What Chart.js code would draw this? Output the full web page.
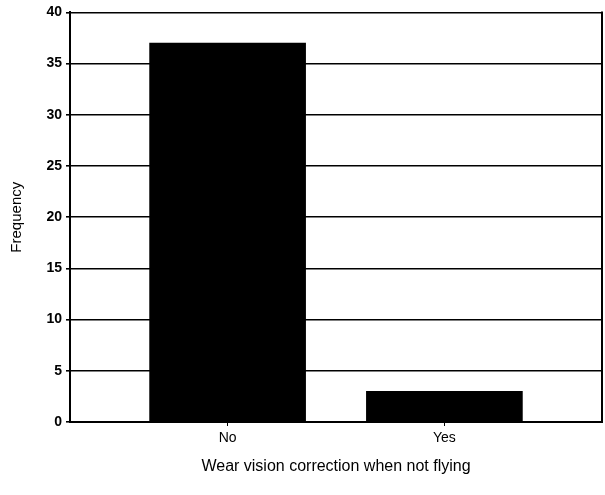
<!DOCTYPE html>
<html lang="en">
<head>
    <meta charset="UTF-8">
    <title>Wear vision correction when not flying</title>
    <script src="https://cdn.jsdelivr.net/npm/chart.js"></script>
    <style>
        html, body { margin: 0; padding: 0; background: #ffffff; }
        .chart-box { position: relative; width: 605px; height: 495px; }
    </style>
</head>
<body>
    <div class="chart-box">
        <canvas id="freqChart"></canvas>
    </div>
    <script>
        // data
        const categories = ['No', 'Yes'];
        const frequencies = [37, 3];
        const yTicks = [0, 5, 10, 15, 20, 25, 30, 35, 40];

        const fontFamily = "'Liberation Sans', Arial, sans-serif";

        // right edge of the frame
        const rightBorder = {
            id: 'rightBorder',
            afterDraw(chart) {
                const a = chart.chartArea;
                const ctx = chart.ctx;
                ctx.save();
                ctx.strokeStyle = '#000';
                ctx.lineWidth = 2;
                ctx.beginPath();
                ctx.moveTo(a.right, a.top - 1);
                ctx.lineTo(a.right, a.bottom + 1);
                ctx.stroke();
                ctx.restore();
            }
        };

        new Chart(document.getElementById('freqChart'), {
            type: 'bar',
            data: {
                datasets: [{
                    data: frequencies.map((v, i) => ({ x: i, y: v })),
                    backgroundColor: '#000000',
                    borderWidth: 0,
                    barThickness: 156
                }]
            },
            options: {
                responsive: true,
                maintainAspectRatio: false,
                animation: false,
                layout: { padding: { top: 10, right: 3, left: 0, bottom: 0 } },
                plugins: { legend: { display: false }, tooltip: { enabled: false } },
                scales: {
                    x: {
                        type: 'linear',
                        offset: false,
                        min: -0.727,
                        max: 1.727,
                        afterBuildTicks: s => { s.ticks = categories.map((c, i) => ({ value: i })); },
                        afterFit: s => { s.height = 73; },
                        ticks: {
                            callback: v => categories[v],
                            color: '#000',
                            font: { family: fontFamily, size: 14 },
                            padding: 4,
                            maxRotation: 0
                        },
                        grid: { offset: false, drawOnChartArea: false, drawTicks: true, tickLength: 4, color: '#000', lineWidth: 1 },
                        border: { color: '#000', width: 2 },
                        title: {
                            display: true,
                            text: 'Wear vision correction when not flying',
                            color: '#000',
                            font: { family: fontFamily, size: 16 },
                            padding: { top: 0, bottom: 19 }
                        }
                    },
                    y: {
                        min: 0,
                        max: 40,
                        afterBuildTicks: s => { s.ticks = yTicks.map(v => ({ value: v })); },
                        afterFit: s => { s.width = 70; },
                        ticks: {
                            color: '#000',
                            font: { family: fontFamily, size: 14, weight: 'bold' },
                            padding: 4
                        },
                        grid: { color: '#000', lineWidth: 1.6, tickLength: 4 },
                        border: { color: '#000', width: 2 },
                        title: {
                            display: true,
                            text: 'Frequency',
                            color: '#000',
                            font: { family: fontFamily, size: 15 },
                            padding: { top: 8, bottom: 0 }
                        }
                    }
                }
            },
            plugins: [rightBorder]
        });
    </script>
</body>
</html>
